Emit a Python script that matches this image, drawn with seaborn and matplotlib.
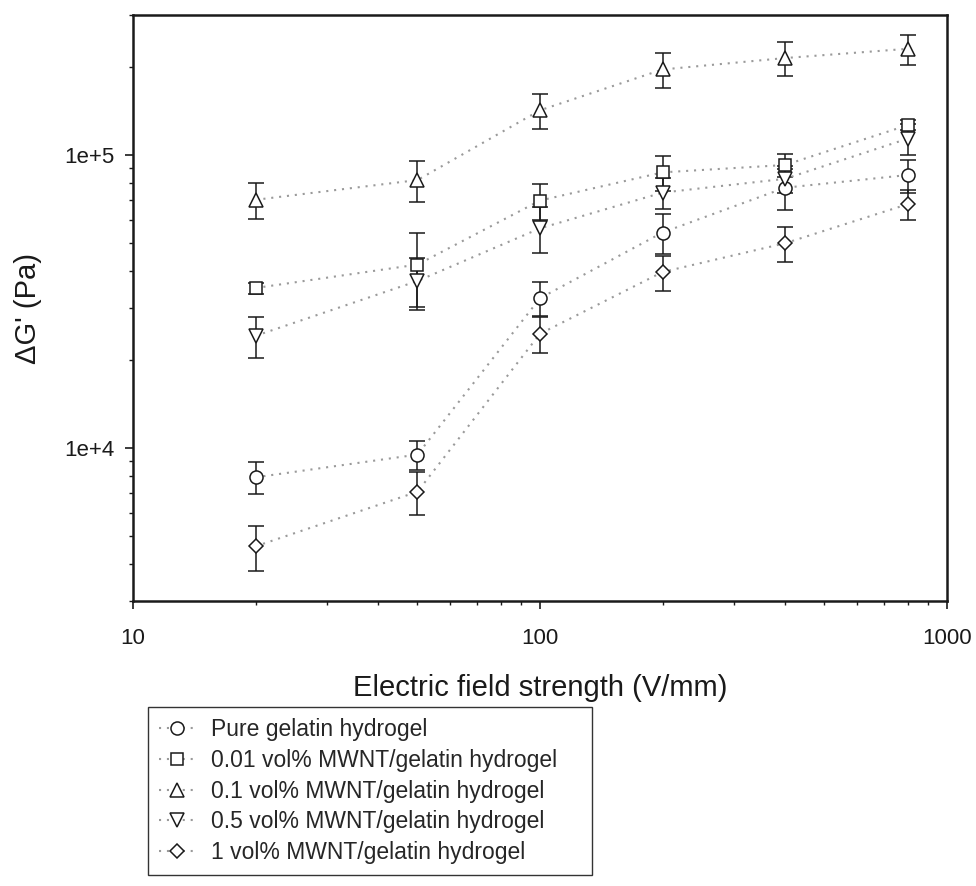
import matplotlib
matplotlib.use("Agg")
import matplotlib.pyplot as plt
import seaborn as sns
import numpy as np

# ---- data ----
field = [20, 50, 100, 200, 400, 800]

series_labels = [
    "Pure gelatin hydrogel",
    "0.01 vol% MWNT/gelatin hydrogel",
    "0.1 vol% MWNT/gelatin hydrogel",
    "0.5 vol% MWNT/gelatin hydrogel",
    "1 vol% MWNT/gelatin hydrogel",
]

pure = [7930, 9480, 32400, 54300, 77200, 85300]
pure_err = [1000, 1100, 4300, 8600, 12300, 11000]

mwnt_001 = [35100, 42200, 69800, 87100, 92300, 126200]
mwnt_001_err = [1500, 12000, 10000, 12000, 8000, 5000]

mwnt_01 = [70200, 82000, 141900, 195500, 213900, 230000]
mwnt_01_err = [10000, 13000, 19600, 27000, 28000, 27000]

mwnt_05 = [24100, 37100, 56100, 74300, 82800, 113500]
mwnt_05_err = [3900, 7500, 10000, 9000, 9000, 13700]

mwnt_1 = [4610, 7080, 24500, 39800, 49900, 67800]
mwnt_1_err = [810, 1200, 3500, 5500, 7000, 7800]

xtick_values = [10, 100, 1000]
xtick_labels = ["10", "100", "1000"]
ytick_values = [1e4, 1e5]
ytick_labels = ["1e+4", "1e+5"]

# ---- style ----
sns.set_style("ticks")
plt.rcParams["font.family"] = ["Liberation Sans", "DejaVu Sans"]

fig = plt.figure(figsize=(9.76, 8.86), dpi=100)
W, H = 976, 886
ax = fig.add_axes([133 / W, 1 - 601 / H, (947 - 133) / W, (601 - 15) / H])

values = [pure, mwnt_001, mwnt_01, mwnt_05, mwnt_1]
errors = [pure_err, mwnt_001_err, mwnt_01_err, mwnt_05_err, mwnt_1_err]
markers = ["o", "s", "^", "v", "D"]
msizes = [9.4, 8.4, 9.6, 9.6, 7.4]

for vals, errs, lab, mk, ms in zip(values, errors, series_labels, markers, msizes):
    ax.errorbar(field, vals, yerr=errs, fmt="none", ecolor="#1a1a1a",
                elinewidth=1.1, capsize=5.5, capthick=1.1, zorder=2)
    sns.lineplot(x=field, y=vals, ax=ax, label=lab, color="#9a9a9a",
                 linestyle=(0, (1, 2.8)), linewidth=1.5,
                 marker=mk, markersize=ms, markerfacecolor="white",
                 markeredgecolor="#1a1a1a", markeredgewidth=1.1, zorder=3)

ax.set_xscale("log")
ax.set_yscale("log")
ax.set_xlim(10, 1000)
ax.set_ylim(3000, 3.0e5)

ax.set_xticks(xtick_values)
ax.set_xticklabels(xtick_labels)
ax.set_yticks(ytick_values)
ax.set_yticklabels(ytick_labels)
ax.yaxis.set_minor_formatter(matplotlib.ticker.NullFormatter())
ax.xaxis.set_minor_formatter(matplotlib.ticker.NullFormatter())

ax.tick_params(axis="both", which="major", direction="out", length=5.5,
               width=1.2, labelsize=16, color="#1a1a1a", labelcolor="#1a1a1a")
ax.tick_params(axis="both", which="minor", direction="out", length=3,
               width=1.0, color="#1a1a1a")
ax.tick_params(axis="x", which="major", pad=14)
ax.tick_params(axis="y", which="major", pad=8)
ax.tick_params(top=False, right=False, which="both")

for sp in ax.spines.values():
    sp.set_visible(True)
    sp.set_linewidth(1.8)
    sp.set_color("#1a1a1a")

ax.set_xlabel("Electric field strength (V/mm)", fontsize=21, labelpad=18,
              color="#1a1a1a")
ax.set_ylabel("\u0394G' (Pa)", fontsize=21, labelpad=16, color="#1a1a1a")

ax.legend(loc="upper left",
          bbox_to_anchor=(148 / W, 0, (592 - 148) / W, 1 - 707 / H),
          bbox_transform=fig.transFigure, mode="expand", borderaxespad=0,
          fontsize=16.5, frameon=True, fancybox=False, edgecolor="#333333",
          framealpha=1, borderpad=0.5, labelspacing=0.33,
          handlelength=1.5, handletextpad=0.75)
ax.get_legend().get_frame().set_linewidth(1.0)

fig.savefig("out.png", dpi=100)
